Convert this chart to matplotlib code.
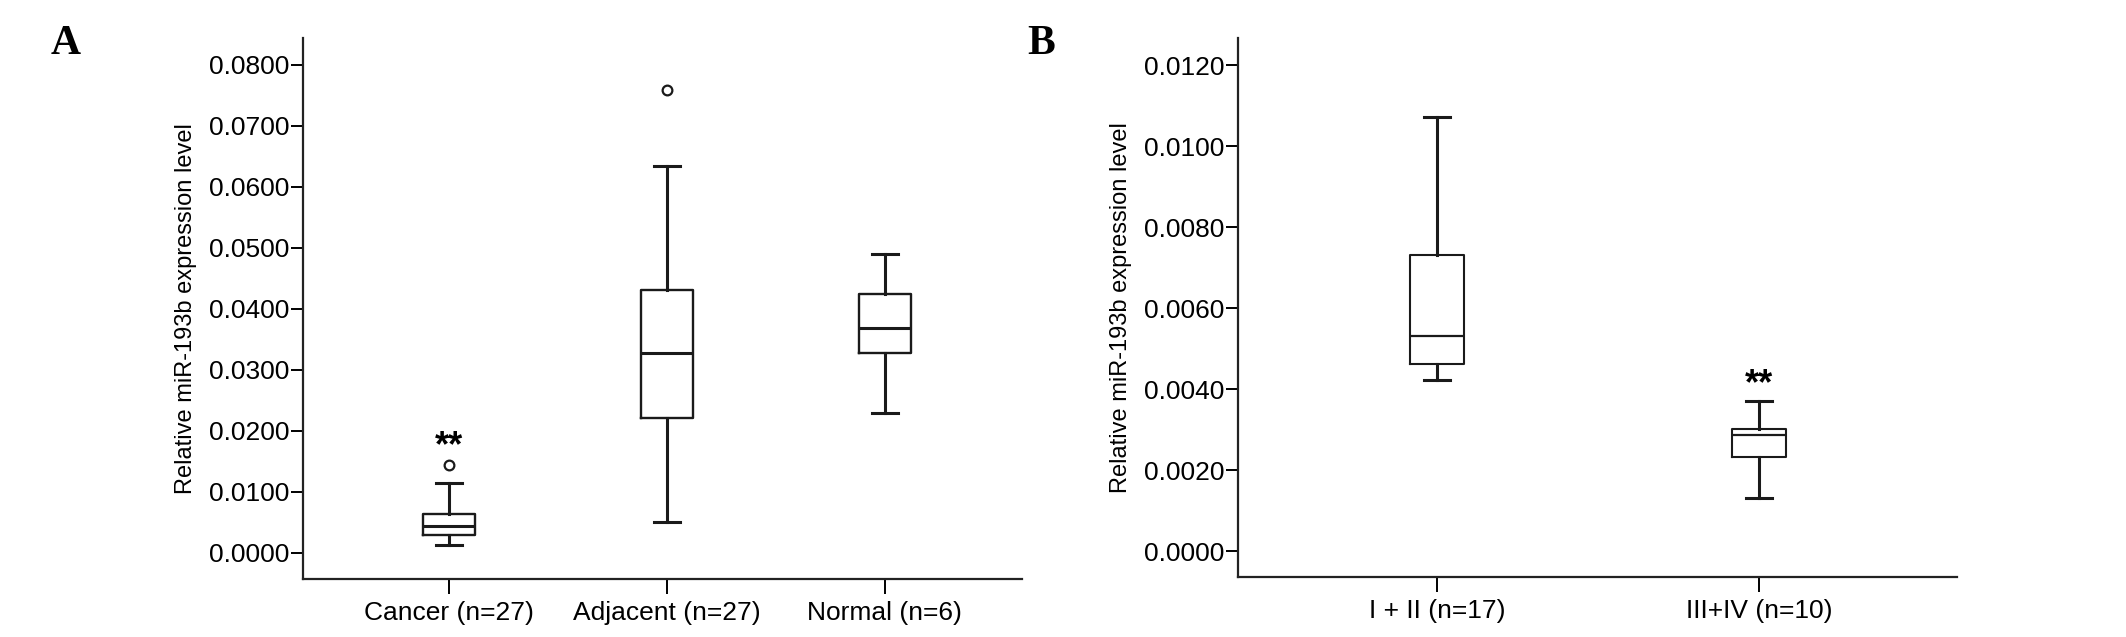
import matplotlib
matplotlib.use("Agg")
import matplotlib.pyplot as plt
from matplotlib.ticker import FixedLocator, FormatStrFormatter

plt.rcParams['font.family'] = ['Liberation Sans', 'DejaVu Sans']

# panel A: tissue groups
groups_a = ["Cancer (n=27)", "Adjacent (n=27)", "Normal (n=6)"]
low_a = [0.00131, 0.00508, 0.02295]
q1_a = [0.00295, 0.02213, 0.03279]
med_a = [0.00443, 0.03279, 0.03689]
q3_a = [0.00639, 0.04311, 0.04246]
high_a = [0.01148, 0.06344, 0.04902]
out_a = [[0.01443], [0.0759], []]
star_a = [0.0174, None, None]

# panel B: stage groups
groups_b = ["I + II (n=17)", "III+IV (n=10)"]
low_b = [0.00422, 0.00131]
q1_b = [0.00462, 0.00232]
med_b = [0.00531, 0.00286]
q3_b = [0.00731, 0.00301]
high_b = [0.01072, 0.00370]
star_b = [None, 0.0041]

yticks_a = [0.0, 0.01, 0.02, 0.03, 0.04, 0.05, 0.06, 0.07, 0.08]
yticks_b = [0.0, 0.002, 0.004, 0.006, 0.008, 0.010, 0.012]
ylabel = "Relative miR-193b expression level"


def make_stats(lo, q1, med, q3, hi, fl=None):
    st = []
    for i in range(len(lo)):
        st.append(dict(whislo=lo[i], q1=q1[i], med=med[i], q3=q3[i],
                       whishi=hi[i], fliers=fl[i] if fl else []))
    return st


def style(ax, ticks, fmt):
    for s in ['top', 'right']:
        ax.spines[s].set_visible(False)
    for s in ['left', 'bottom']:
        ax.spines[s].set_linewidth(1.6)
        ax.spines[s].set_color('#222222')
    ax.yaxis.set_major_locator(FixedLocator(ticks))
    ax.yaxis.set_major_formatter(FormatStrFormatter(fmt))
    ax.tick_params(axis='y', length=9, width=1.4, pad=1, labelsize=19)
    ax.tick_params(axis='x', length=11, width=1.4, pad=5, labelsize=19)


fig = plt.figure(figsize=(21.26, 6.37), dpi=100)

axA = fig.add_axes([0.1425, 0.0911, 0.3382, 0.8492])
axA.bxp(make_stats(low_a, q1_a, med_a, q3_a, high_a, out_a),
        positions=[1, 2, 3], widths=0.24, showfliers=True,
        boxprops=dict(linewidth=1.7, color='#1a1a1a'),
        whiskerprops=dict(linewidth=2.2, color='#1a1a1a'),
        capprops=dict(linewidth=2.2, color='#1a1a1a'),
        medianprops=dict(linewidth=2.2, color='#1a1a1a'),
        flierprops=dict(marker='o', markersize=7, markerfacecolor='none',
                        markeredgecolor='#1a1a1a', markeredgewidth=1.6),
        capwidths=0.12)
axA.set_xlim(0.33, 3.63)
axA.set_ylim(-0.00426, 0.0844)
axA.set_xticks([1, 2, 3])
axA.set_xticklabels(groups_a)
style(axA, yticks_a, '%.4f')
axA.set_ylabel(ylabel, fontsize=17, labelpad=8)
for i, s in enumerate(star_a):
    if s is not None:
        axA.text(i + 1, s, "**", ha='center', va='center', fontsize=26,
                 fontweight='bold')

axB = fig.add_axes([0.5823, 0.0942, 0.3382, 0.8461])
axB.bxp(make_stats(low_b, q1_b, med_b, q3_b, high_b),
        positions=[1, 2], widths=0.165, showfliers=False,
        boxprops=dict(linewidth=1.5, color='#1a1a1a'),
        whiskerprops=dict(linewidth=2.2, color='#1a1a1a'),
        capprops=dict(linewidth=2.2, color='#1a1a1a'),
        medianprops=dict(linewidth=1.6, color='#1a1a1a'),
        capwidths=0.08)
axB.set_xlim(0.382, 2.615)
axB.set_ylim(-0.00064, 0.01267)
axB.set_xticks([1, 2])
axB.set_xticklabels(groups_b)
style(axB, yticks_b, '%.4f')
axB.set_ylabel(ylabel, fontsize=17, labelpad=8)
for i, s in enumerate(star_b):
    if s is not None:
        axB.text(i + 1, s, "**", ha='center', va='center', fontsize=26,
                 fontweight='bold')

fig.text(66 / 2126, 1 - 44 / 637, "A", fontsize=30, fontweight='bold',
         family='Liberation Serif', ha='center', va='center')
fig.text(1041 / 2126, 1 - 44 / 637, "B", fontsize=30, fontweight='bold',
         family='Liberation Serif', ha='center', va='center')

fig.savefig("out.png", dpi=100)
